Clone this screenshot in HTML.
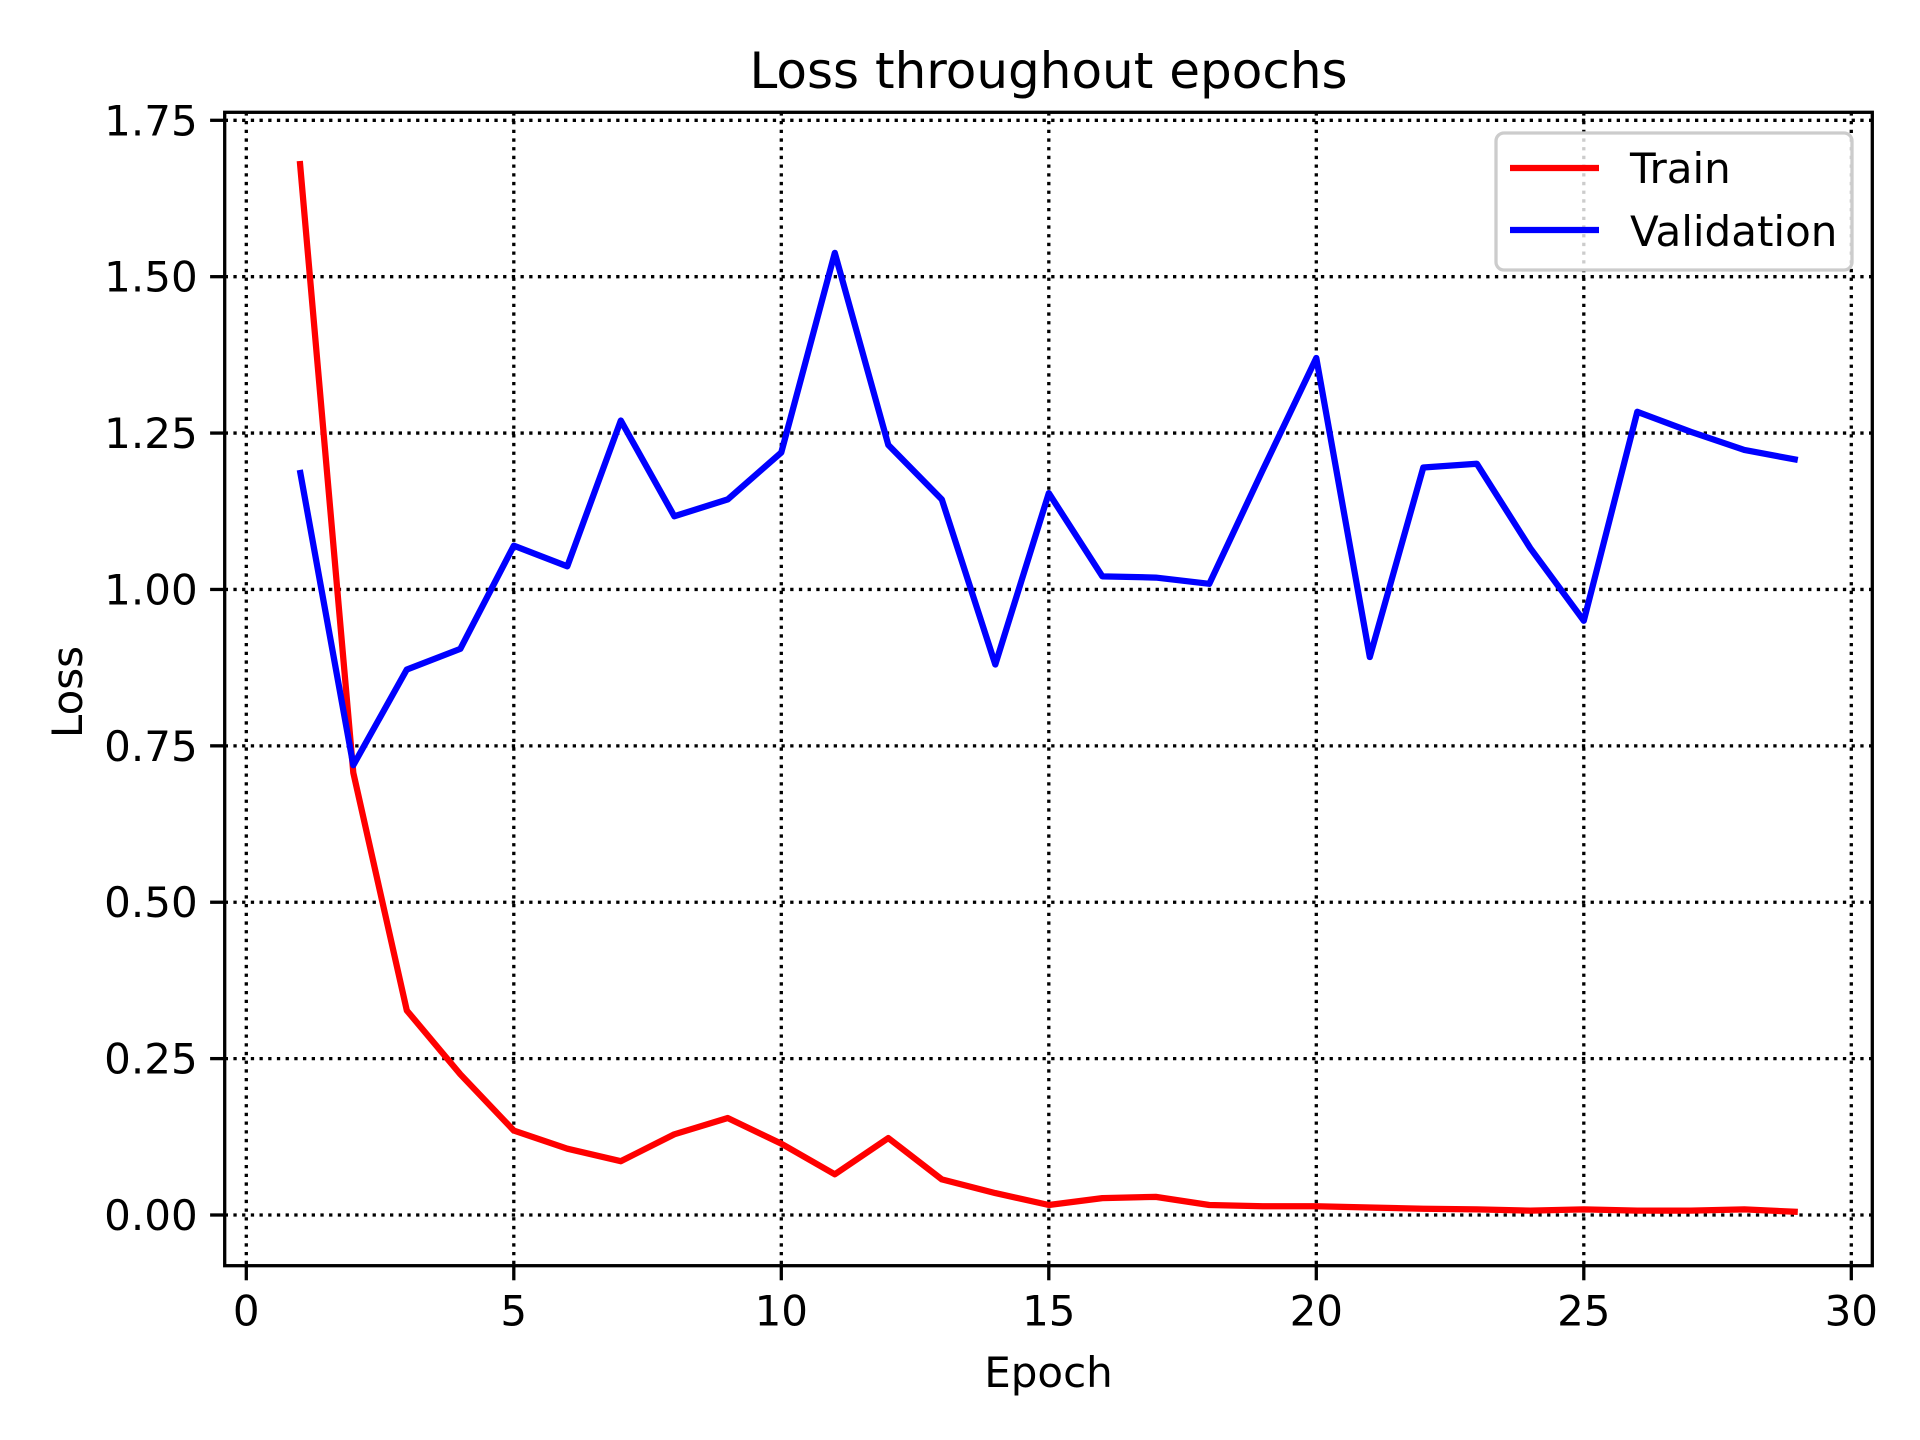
<!DOCTYPE html>
<html><head><meta charset="utf-8"><style>
html,body{margin:0;padding:0;background:#fff;}
svg{display:block;font-family:"DejaVu Sans","Liberation Sans",sans-serif;}
</style></head><body>
<svg id="chart" width="1920" height="1440" viewBox="0 0 1920 1440">
<rect x="0" y="0" width="1920" height="1440" fill="#fff"/>
<g id="grid"></g>
<g id="series"></g>
<rect x="224.7" y="112.3" width="1647.6" height="1153.4" fill="none" stroke="#000" stroke-width="3.3"/>
<g id="ticks"></g>
<text x="1048.5" y="88" font-size="50" text-anchor="middle">Loss throughout epochs</text>
<text x="1048.5" y="1387" font-size="42" text-anchor="middle">Epoch</text>
<text x="0" y="0" font-size="42" text-anchor="middle" transform="translate(82,692) rotate(-90)">Loss</text>
<g>
<rect x="1496" y="133" width="356" height="137" rx="8" fill="#fff" fill-opacity="0.8" stroke="#cccccc" stroke-width="3.3"/>
<line x1="1510" y1="168" x2="1599" y2="168" stroke="#ff0000" stroke-width="6.25"/>
<text x="1630" y="183" font-size="42">Train</text>
<line x1="1510" y1="230" x2="1599" y2="230" stroke="#0000ff" stroke-width="6.25"/>
<text x="1630" y="246" font-size="42">Validation</text>
</g>
</svg>
<script>
const epochs = [1,2,3,4,5,6,7,8,9,10,11,12,13,14,15,16,17,18,19,20,21,22,23,24,25,26,27,28,29];
const trainLoss = [1.685,0.707,0.327,0.225,0.135,0.106,0.086,0.129,0.155,0.114,0.065,0.123,0.057,0.035,0.016,0.027,0.029,0.016,0.014,0.014,0.012,0.010,0.009,0.007,0.009,0.007,0.007,0.009,0.005];
const valLoss = [1.191,0.719,0.872,0.905,1.070,1.037,1.270,1.117,1.144,1.219,1.538,1.231,1.144,0.880,1.154,1.021,1.019,1.009,1.191,1.370,0.892,1.195,1.201,1.066,0.950,1.284,1.252,1.223,1.207];
const xTicks = [0,5,10,15,20,25,30];
const yTicks = [0,0.25,0.5,0.75,1.0,1.25,1.5,1.75];
const yTickLabels = ["0.00","0.25","0.50","0.75","1.00","1.25","1.50","1.75"];

const NS = "http://www.w3.org/2000/svg";
const X0 = 246.3, XS = (1851.3 - 246.3) / 30;
const Y0 = 1215, YS = (1215 - 120.3) / 1.75;
const AX_L = 224.7, AX_R = 1872.3, AX_T = 112.3, AX_B = 1265.7;
function xp(v){ return X0 + v * XS; }
function yp(v){ return Y0 - v * YS; }
function mk(tag, attrs, parent){
  const e = document.createElementNS(NS, tag);
  for (const k in attrs) e.setAttribute(k, attrs[k]);
  parent.appendChild(e);
  return e;
}
const grid = document.getElementById('grid');
const ticks = document.getElementById('ticks');
const series = document.getElementById('series');

xTicks.forEach(function(t){
  const g = mk('line', {x1: xp(t), x2: xp(t), y1: AX_T, y2: AX_B, stroke: '#000', 'stroke-width': 3.3, 'stroke-dasharray': '3.3,5.4'}, grid);
  
  
  const tk = mk('line', {x1: xp(t), x2: xp(t), y1: AX_B, y2: AX_B + 14.6, stroke: '#000', 'stroke-width': 3.3}, ticks);
  
  
  const lb = mk('text', {x: xp(t), y: AX_B + 60, 'font-size': 42, 'text-anchor': 'middle'}, ticks);
  lb.textContent = String(t);
  
  
});
yTicks.forEach(function(t, i){
  const g = mk('line', {x1: AX_L, x2: AX_R, y1: yp(t), y2: yp(t), stroke: '#000', 'stroke-width': 3.3, 'stroke-dasharray': '3.3,5.4'}, grid);
  
  
  const tk = mk('line', {x1: AX_L - 14.6, x2: AX_L, y1: yp(t), y2: yp(t), stroke: '#000', 'stroke-width': 3.3}, ticks);
  
  
  const lb = mk('text', {x: AX_L - 27, y: yp(t) + 15, 'font-size': 42, 'text-anchor': 'end'}, ticks);
  lb.textContent = yTickLabels[i];
  
  
});
function pts(vals){ return vals.map(function(v, i){ return xp(epochs[i]) + ',' + yp(v); }).join(' '); }
const tl = mk('polyline', {points: pts(trainLoss), fill: 'none', stroke: '#ff0000', 'stroke-width': 6.25, 'stroke-linejoin': 'round'}, series);


const vl = mk('polyline', {points: pts(valLoss), fill: 'none', stroke: '#0000ff', 'stroke-width': 6.25, 'stroke-linejoin': 'round'}, series);


</script>
</body></html>
